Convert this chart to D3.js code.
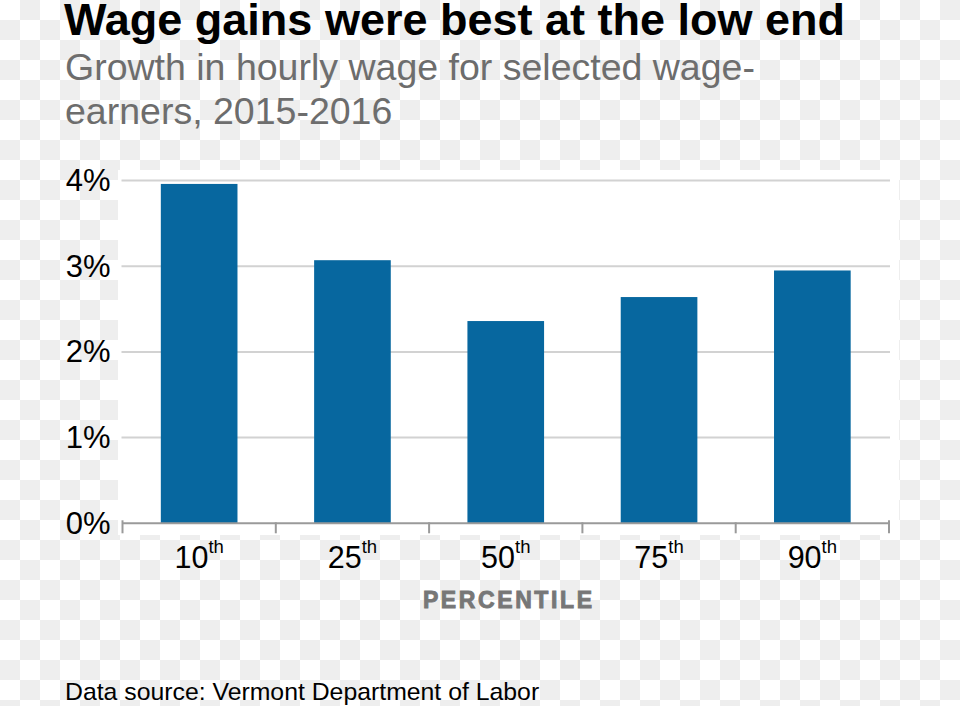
<!DOCTYPE html>
<html>
<head>
<meta charset="utf-8">
<script src="https://cdn.jsdelivr.net/npm/d3@7"></script>
<style>
  html, body { margin: 0; padding: 0; background: #fff; }
  svg { display: block; }
  text { font-family: "Liberation Sans", Arial, sans-serif; }
</style>
</head>
<body>
<svg id="chart" width="960" height="706"></svg>
<script>
// ---- data ----
const categories = ["10", "25", "50", "75", "90"];
const suffixes = ["th", "th", "th", "th", "th"];
const values = [3.96, 3.07, 2.36, 2.64, 2.95];
const yTicks = [0, 1, 2, 3, 4];
const titleText = "Wage gains were best at the low end";
const subtitleLines = ["Growth in hourly wage for selected wage-", "earners, 2015-2016"];
const xAxisTitle = "PERCENTILE";
const sourceText = "Data source: Vermont Department of Labor";

(function () {
const svg = d3.select("#chart");
const W = 960, H = 706;

// checkerboard background (transparency pattern as in reference)
const defs = svg.append("defs");
const pat = defs.append("pattern").attr("id", "checker")
  .attr("patternUnits", "userSpaceOnUse").attr("width", 40).attr("height", 40);
pat.append("rect").attr("width", 40).attr("height", 40).attr("fill", "#ffffff");
pat.append("rect").attr("x", 20).attr("y", 0).attr("width", 20).attr("height", 20).attr("fill", "#eeeeee");
pat.append("rect").attr("x", 0).attr("y", 20).attr("width", 20).attr("height", 20).attr("fill", "#eeeeee");
svg.append("rect").attr("width", W).attr("height", H).attr("fill", "url(#checker)");

// plot area
const pLeft = 122.5, pRight = 889, pTop = 180.5, pBottom = 523.3;
svg.append("rect").attr("x", 118).attr("y", 170).attr("width", 781).attr("height", 365).attr("fill", "#ffffff");

const x = d3.scaleBand().domain(categories).range([pLeft, pRight]).paddingInner(0.5).paddingOuter(0.25);
const y = d3.scaleLinear().domain([0, 4]).range([pBottom, pTop]);

// gridlines
svg.append("g").selectAll("line").data(yTicks.filter(d => d > 0)).join("line")
  .attr("x1", pLeft - 1).attr("x2", pRight + 1)
  .attr("y1", d => y(d)).attr("y2", d => y(d))
  .attr("stroke", "#d2d2d2").attr("stroke-width", 2);

// bars
svg.append("g").selectAll("rect").data(categories).join("rect")
  .attr("x", d => x(d))
  .attr("y", (d, i) => y(values[i]))
  .attr("width", x.bandwidth())
  .attr("height", (d, i) => y(0) - y(values[i]))
  .attr("fill", "#07679f");

// y axis labels
const yAxis = d3.axisLeft(y).tickValues(yTicks).tickFormat(d => d + "%").tickSize(0).tickPadding(12);
const yg = svg.append("g").attr("transform", `translate(${pLeft},0)`).call(yAxis);
yg.select(".domain").remove();
yg.selectAll("text").attr("font-size", 31).attr("fill", "#000")
  .attr("font-family", "'Liberation Sans', Arial, sans-serif");

// x axis line and ticks at band boundaries
const step = x.step();
const boundaries = categories.map(c => x(c) - (step - x.bandwidth()) / 2).concat([pRight]);
svg.append("line").attr("x1", pLeft).attr("x2", pRight).attr("y1", pBottom).attr("y2", pBottom)
  .attr("stroke", "#9a9a9a").attr("stroke-width", 2);
svg.append("g").selectAll("line").data(boundaries).join("line")
  .attr("x1", d => d).attr("x2", d => d)
  .attr("y1", (d, i) => (i === 0 || i === boundaries.length - 1) ? pBottom - 3 : pBottom - 1)
  .attr("y2", pBottom + 10)
  .attr("stroke", "#9a9a9a").attr("stroke-width", 2);

// x labels with superscript
const xl = svg.append("g").selectAll("text").data(categories).join("text")
  .attr("x", d => x(d) + x.bandwidth() / 2)
  .attr("y", 568)
  .attr("text-anchor", "middle")
  .attr("font-size", 30.5)
  .attr("fill", "#000");
xl.append("tspan").text(d => d);
xl.append("tspan").attr("font-size", 18.5).attr("dy", -15).text((d, i) => suffixes[i]);

// x axis title
svg.append("text")
  .attr("x", (pLeft + pRight) / 2 + 3).attr("y", 607.5)
  .attr("text-anchor", "middle")
  .attr("font-size", 23).attr("font-weight", "bold")
  .attr("letter-spacing", 2.6)
  .attr("fill", "#777777").attr("stroke", "#777777").attr("stroke-width", 0.9)
  .text(xAxisTitle);

// title + subtitle
svg.append("text").attr("x", 64).attr("y", 35)
  .attr("font-size", 45).attr("font-weight", "bold").attr("fill", "#000")
  .text(titleText);
svg.append("g").selectAll("text").data(subtitleLines).join("text")
  .attr("x", 65).attr("y", (d, i) => 80 + i * 43.5)
  .attr("font-size", 37.5).attr("fill", "#6d6d6d")
  .text(d => d);

// source
svg.append("text").attr("x", 65).attr("y", 700)
  .attr("font-size", 24.8).attr("fill", "#000")
  .text(sourceText);
})();
</script>
</body>
</html>
